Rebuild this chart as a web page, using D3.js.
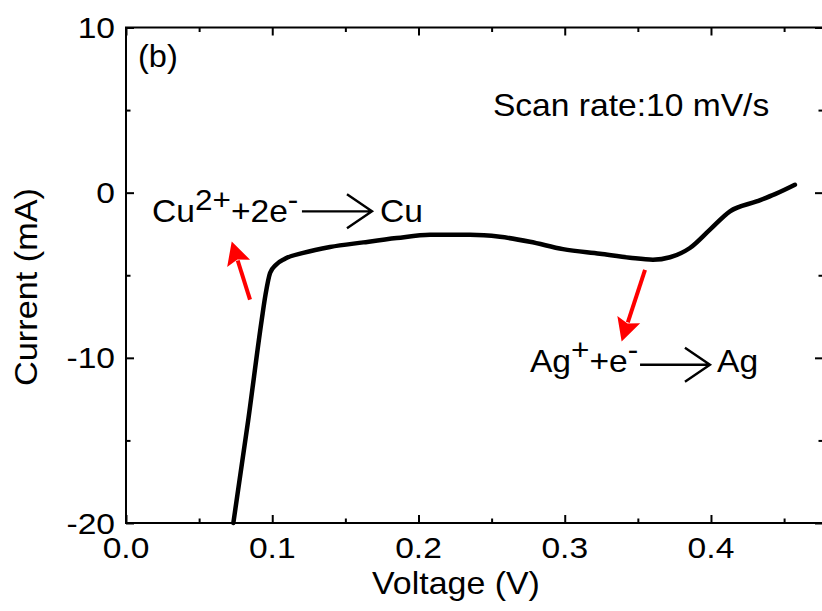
<!DOCTYPE html>
<html>
<head>
<meta charset="utf-8">
<script src="https://cdn.jsdelivr.net/npm/d3@7"></script>
<style>
  html, body { margin: 0; padding: 0; background: #fff; }
  svg { display: block; }
  text { font-family: "Liberation Sans", Arial, Helvetica, sans-serif; fill: #000; }
</style>
</head>
<body>
<svg id="chart" width="822" height="611"></svg>
<script>
// Cathodic sweep: voltage (V) and current (mA)
const voltage = [0.0734, 0.0836, 0.0928, 0.0954, 0.0985, 0.1026, 0.1087, 0.1212, 0.1395, 0.1623,
                 0.1851, 0.2079, 0.2352, 0.2557, 0.2762, 0.2988, 0.3241, 0.3446, 0.3603, 0.3720,
                 0.3856, 0.3993, 0.4130, 0.4312, 0.4438, 0.4574];
const current = [-20.0, -13.76, -7.70, -6.18, -4.87, -4.36, -4.00, -3.65, -3.29, -3.01,
                 -2.75, -2.55, -2.55, -2.67, -2.97, -3.42, -3.70, -3.94, -4.06, -3.91,
                 -3.35, -2.24, -1.13, -0.53, -0.09, 0.48];

const xMajorTicks = [0.0, 0.1, 0.2, 0.3, 0.4];
const xMinorTicks = [0.05, 0.15, 0.25, 0.35, 0.45];
const xTickLabels = ["0.0", "0.1", "0.2", "0.3", "0.4"];
const yMajorTicks = [10, 0, -10, -20];
const yMinorTicks = [5, -5, -15];
const yTickLabels = ["10", "0", "-10", "-20"];

const xDomain = [0, 0.4766];
const yDomain = [-20, 10];

// Annotation anchors in data units [V, mA]
const redArrows = [
  { from: [0.0848, -6.48], to: [0.0723, -2.95] },
  { from: [0.3549, -4.67], to: [0.3389, -9.01] }
];

const svg = d3.select("#chart");
const plot = { left: 126, right: 823, top: 27.5, bottom: 523 };

const x = d3.scaleLinear().domain(xDomain).range([plot.left, plot.right]);
const y = d3.scaleLinear().domain(yDomain).range([plot.bottom, plot.top]);

const AXIS_W = 2;
const MAJ = 8, MIN = 4.5;

function styleAxis(g) {
  g.select(".domain").remove();
  g.selectAll(".tick line").attr("stroke", "#000").attr("stroke-width", AXIS_W);
}

// Frame
svg.append("rect")
  .attr("x", plot.left).attr("y", plot.top)
  .attr("width", plot.right - plot.left).attr("height", plot.bottom - plot.top)
  .attr("fill", "none").attr("stroke", "#000").attr("stroke-width", AXIS_W);

// Inward ticks on all four sides
[[d3.axisBottom, plot.bottom], [d3.axisTop, plot.top]].forEach(([fn, pos]) => {
  svg.append("g").attr("transform", `translate(0,${pos})`)
    .call(fn(x).tickValues(xMajorTicks).tickSize(-MAJ).tickFormat("")).call(styleAxis);
  svg.append("g").attr("transform", `translate(0,${pos})`)
    .call(fn(x).tickValues(xMinorTicks).tickSize(-MIN).tickFormat("")).call(styleAxis);
});
[[d3.axisLeft, plot.left], [d3.axisRight, plot.right]].forEach(([fn, pos]) => {
  svg.append("g").attr("transform", `translate(${pos},0)`)
    .call(fn(y).tickValues(yMajorTicks).tickSize(-MAJ).tickFormat("")).call(styleAxis);
  svg.append("g").attr("transform", `translate(${pos},0)`)
    .call(fn(y).tickValues(yMinorTicks).tickSize(-MIN).tickFormat("")).call(styleAxis);
});

// Tick labels (the face is drawn slightly wide)
const TICK_FS = 30, TICK_SX = 1.12;
xMajorTicks.forEach((v, i) => {
  svg.append("text")
    .attr("transform", `translate(${x(v)},${plot.bottom + 35}) scale(${TICK_SX},1)`)
    .attr("text-anchor", "middle").attr("font-size", TICK_FS)
    .text(xTickLabels[i]);
});
yMajorTicks.forEach((v, i) => {
  svg.append("text")
    .attr("transform", `translate(${plot.left - 11},${y(v) + 10.5}) scale(${TICK_SX},1)`)
    .attr("text-anchor", "end").attr("font-size", TICK_FS)
    .text(yTickLabels[i]);
});

// Axis titles
const LAB_FS = 32;
svg.append("text")
  .attr("transform", `translate(456,594) scale(1.06,1)`)
  .attr("text-anchor", "middle").attr("font-size", LAB_FS)
  .text("Voltage (V)");
svg.append("text")
  .attr("transform", `translate(37,287) rotate(-90) scale(1.07,1)`)
  .attr("text-anchor", "middle").attr("font-size", LAB_FS)
  .text("Current (mA)");

// Curve
const pts = voltage.map((v, i) => [v, current[i]]);
svg.append("path")
  .datum(pts)
  .attr("fill", "none").attr("stroke", "#000").attr("stroke-width", 4.5)
  .attr("stroke-linejoin", "round").attr("stroke-linecap", "round")
  .attr("d", d3.line().x(d => x(d[0])).y(d => y(d[1])).curve(d3.curveMonotoneX));

// Text annotations
const ANN_FS = 32, ANN_SX = 1.05, SUP_FS = 30, SUP_DY = 12;
function annText(v, c, build) {
  const t = svg.append("text")
    .attr("transform", `translate(${x(v)},${y(c)}) scale(${ANN_SX},1)`)
    .attr("font-size", ANN_FS);
  build(t);
  return t;
}
annText(0.0082, 7.58, t => t.attr("font-size", 31).text("(b)"));
annText(0.2509, 4.67, t => t.text("Scan rate:10 mV/s"));

annText(0.0178, -1.76, t => {
  t.append("tspan").text("Cu");
  t.append("tspan").attr("dy", -SUP_DY).attr("font-size", SUP_FS).text("2+");
  t.append("tspan").attr("dy", SUP_DY).text("+2e");
  t.append("tspan").attr("dy", -SUP_DY).attr("font-size", SUP_FS).text("-");
});
annText(0.1737, -1.76, t => t.text("Cu"));

annText(0.2762, -10.85, t => {
  t.append("tspan").text("Ag");
  t.append("tspan").attr("dy", -SUP_DY).attr("font-size", SUP_FS).text("+");
  t.append("tspan").attr("dy", SUP_DY).text("+e");
  t.append("tspan").attr("dy", -SUP_DY).attr("font-size", SUP_FS).text("-");
});
annText(0.4041, -10.85, t => t.text("Ag"));

// Reaction arrows (open chevron heads)
function reactionArrow(v0, v1, c) {
  const x0 = x(v0), x1 = x(v1), yy = y(c);
  svg.append("path")
    .attr("d", `M${x0},${yy}H${x1}M${x1 - 25},${yy - 17}L${x1},${yy}L${x1 - 25},${yy + 17}`)
    .attr("fill", "none").attr("stroke", "#000").attr("stroke-width", 2.4);
}
reactionArrow(0.1203, 0.1682, -1.13);
reactionArrow(0.3515, 0.3993, -10.42);

// Red pointer arrows
redArrows.forEach(a => {
  const x0 = x(a.from[0]), y0 = y(a.from[1]);
  const x1 = x(a.to[0]), y1 = y(a.to[1]);
  const ang = Math.atan2(y1 - y0, x1 - x0);
  const L = 23, W = 12;
  const bx = x1 - L * Math.cos(ang), by = y1 - L * Math.sin(ang);
  const nx = -Math.sin(ang), ny = Math.cos(ang);
  svg.append("line")
    .attr("x1", x0).attr("y1", y0).attr("x2", bx + 3 * Math.cos(ang)).attr("y2", by + 3 * Math.sin(ang))
    .attr("stroke", "#ff0000").attr("stroke-width", 4);
  svg.append("path")
    .attr("d", `M${x1},${y1}L${bx + W * nx},${by + W * ny}L${bx + 4 * Math.cos(ang)},${by + 4 * Math.sin(ang)}L${bx - W * nx},${by - W * ny}Z`)
    .attr("fill", "#ff0000");
});
</script>
</body>
</html>
